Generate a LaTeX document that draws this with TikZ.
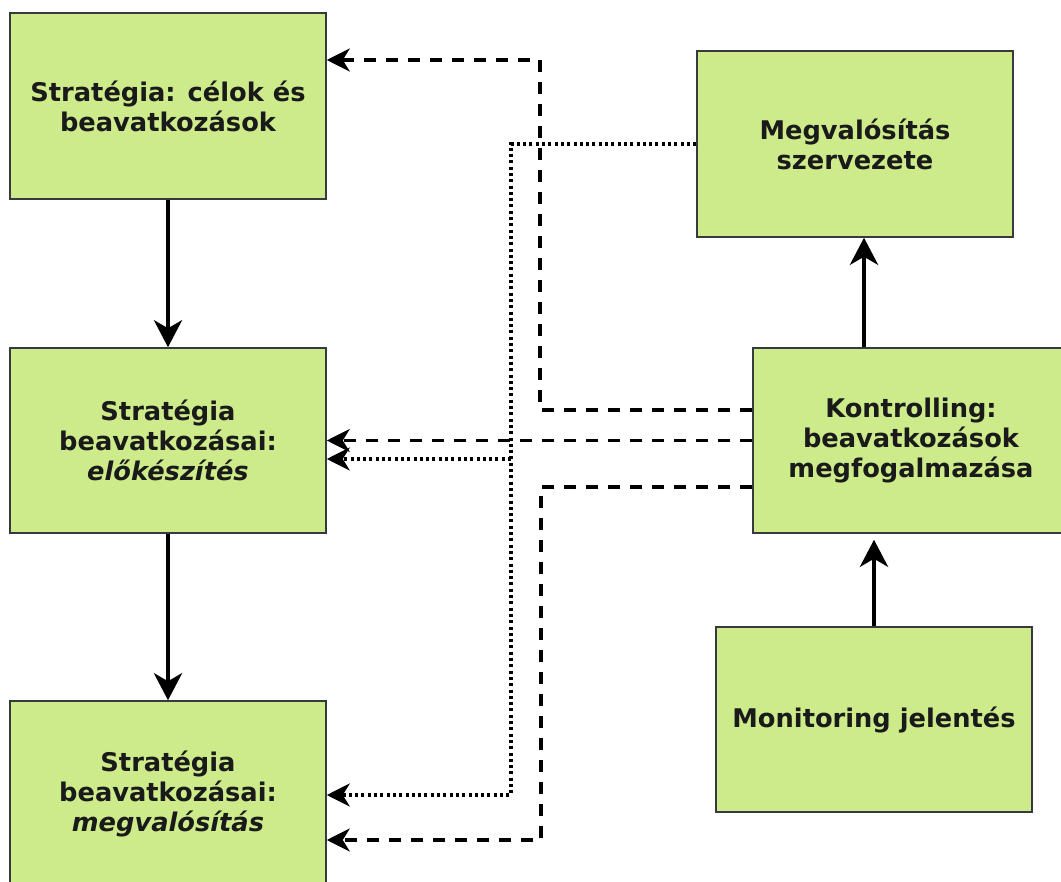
\documentclass[tikz,border=0pt]{standalone}
\usepackage{fontspec}
\setmainfont{DejaVu Sans}
\usetikzlibrary{arrows.meta}
\definecolor{boxfill}{HTML}{CDEB8B}
\definecolor{boxline}{HTML}{36393D}
\definecolor{txt}{HTML}{1A1A1A}
\tikzset{
  box/.style={draw=boxline, line width=1.5pt, fill=boxfill, minimum width=316pt, minimum height=185pt,
    inner sep=0pt, align=center, text=txt, font=\fontsize{25.7}{30}\selectfont\bfseries},
  solidarrow/.style={line width=4.5pt, -{Stealth[length=27pt,width=28pt,inset=8pt]}},
  dasharrow/.style={line width=3.5pt, dash pattern=on 12pt off 10pt, -{Stealth[length=23pt,width=23pt,inset=7pt]}},
  dotarrow/.style={line width=3.5pt, dash pattern=on 3pt off 3.3pt, -{Stealth[length=23pt,width=23pt,inset=7pt]}},
}
\begin{document}
\begin{tikzpicture}[x=1pt,y=-1pt]
\useasboundingbox (0,0) rectangle (1061,882);
\clip (0,0) rectangle (1061,882);
\node[box, minimum height=186pt] (A) at (168,106) {Stratégia: célok és\\beavatkozások};
\node[box] (B) at (168,440.5) {Stratégia\\beavatkozásai:\\\textit{előkészítés}};
\node[box] (C) at (168,793.5) {Stratégia\\beavatkozásai:\\\textit{megvalósítás}};
\node[box, minimum height=186pt] (D) at (855,144) {Megvalósítás\\szervezete};
\node[box] (E) at (911,440.5) {Kontrolling:\\beavatkozások\\megfogalmazása};
\node[box] (F) at (874,719.5) {Monitoring jelentés};
\coordinate (k2) at (540,60);
\coordinate (k3) at (541,840);
\coordinate (k4) at (511,795);
\coordinate (k5) at (511,459);
% solid arrows
\draw[solidarrow] (A.south) -- (B.north);
\draw[solidarrow] (B.south) -- (C.north);
\draw[solidarrow] ([xshift=-47pt]E.north) -- ([xshift=9pt]D.south);
\draw[solidarrow, shorten >=6pt] (F.north) -- ([xshift=-37pt]E.south);
% dashed
\draw[dasharrow] ([yshift=30.5pt]E.west) -| (k2) -- ([yshift=46pt]A.east);
\draw[dasharrow] (E.west) -- (B.east);
\draw[dasharrow] ([yshift=-46.5pt]E.west) -| (k3) -- ([yshift=-46.5pt]C.east);
% dotted
\draw[dotarrow] (D.west) -| (k4) -- ([yshift=-1.5pt]C.east);
\draw[dotarrow] (k5) -- ([yshift=-18.5pt]B.east);
\end{tikzpicture}
\end{document}
